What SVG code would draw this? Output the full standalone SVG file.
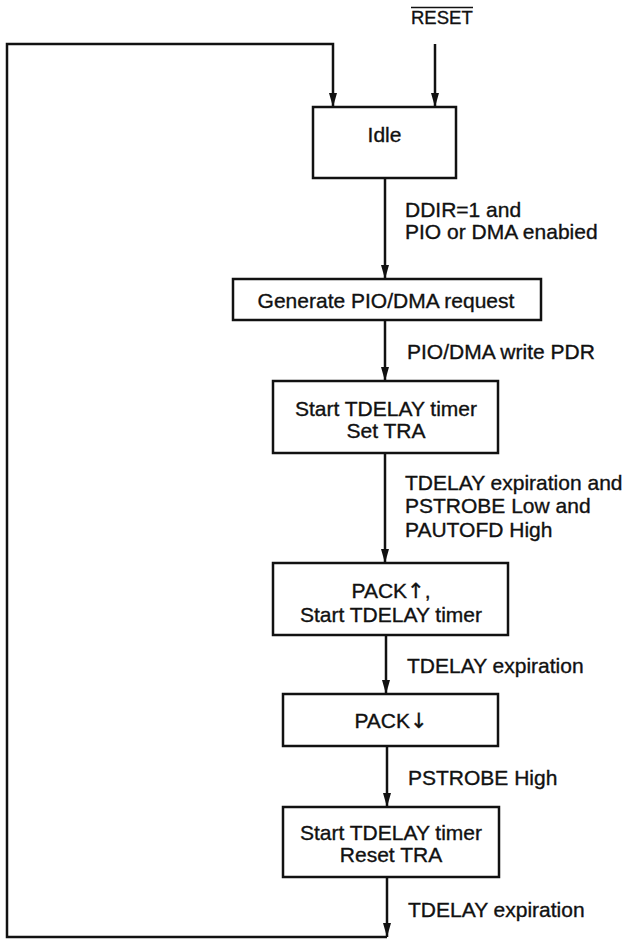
<svg xmlns="http://www.w3.org/2000/svg" width="630" height="939" viewBox="0 0 630 939">
<style>
  .box { fill: #fff; stroke: #111; stroke-width: 2.5; }
  .t { font-family: "Liberation Sans", Arial, Helvetica, sans-serif; font-size: 21px; fill: #111; stroke: #111; stroke-width: 0.35; }
  .c { text-anchor: middle; }
  .ar { font-family: "DejaVu Sans", sans-serif; }
  .wire { fill: none; stroke: #111; stroke-width: 2.5; }
</style>
<defs>
  <marker id="arr" markerUnits="userSpaceOnUse" viewBox="0 0 14 9" refX="14" refY="4.5" markerWidth="14" markerHeight="9" orient="auto">
    <path d="M0,0.5 L14,4.5 L0,8.5 Z" fill="#111"/>
  </marker>
</defs>
<rect width="630" height="939" fill="#fff"/>

<g id="connectors">
  <path class="wire" d="M387,937 H7 V44 H333 V107" marker-end="url(#arr)"/>
  <path class="wire" d="M435,44 V107" marker-end="url(#arr)"/>
  <path class="wire" d="M385,178 V279" marker-end="url(#arr)"/>
  <path class="wire" d="M385,320 V381" marker-end="url(#arr)"/>
  <path class="wire" d="M385,453 V563" marker-end="url(#arr)"/>
  <path class="wire" d="M386,635 V694" marker-end="url(#arr)"/>
  <path class="wire" d="M387,746 V807" marker-end="url(#arr)"/>
  <path class="wire" d="M387,877 V937" marker-end="url(#arr)"/>
</g>

<g id="reset-label">
  <text class="t" x="411" y="24" style="font-size:18.5px">RESET</text>
  <line x1="411" y1="7.5" x2="473" y2="7.5" stroke="#111" stroke-width="1.5"/>
</g>

<g id="labels">
  <text class="t" x="405" y="217">DDIR=1 and</text>
  <text class="t" x="405" y="239">PIO or DMA enabied</text>
  <text class="t" x="407" y="359">PIO/DMA write PDR</text>
  <text class="t" x="405" y="490">TDELAY expiration and</text>
  <text class="t" x="405" y="513">PSTROBE Low and</text>
  <text class="t" x="405" y="537">PAUTOFD High</text>
  <text class="t" x="407" y="673">TDELAY expiration</text>
  <text class="t" x="408" y="785">PSTROBE High</text>
  <text class="t" x="408" y="917">TDELAY expiration</text>
</g>

<g id="idle">
  <rect class="box" x="313" y="107" width="143" height="71"/>
  <text class="t c" x="384.5" y="142">Idle</text>
</g>

<g id="generate">
  <rect class="box" x="233" y="279" width="308" height="41"/>
  <text class="t c" x="386" y="308">Generate PIO/DMA request</text>
</g>

<g id="start-set">
  <rect class="box" x="273" y="381" width="225" height="72"/>
  <text class="t c" x="386" y="416">Start TDELAY timer</text>
  <text class="t c" x="386" y="438">Set TRA</text>
</g>

<g id="pack-up">
  <rect class="box" x="273" y="563" width="235" height="72"/>
  <text class="t c" x="391" y="598">PACK<tspan class="ar">↑</tspan>,</text>
  <text class="t c" x="391" y="622">Start TDELAY timer</text>
</g>

<g id="pack-down">
  <rect class="box" x="283" y="694" width="215" height="52"/>
  <text class="t c" x="391" y="728">PACK<tspan class="ar">↓</tspan></text>
</g>

<g id="start-reset">
  <rect class="box" x="283" y="807" width="216" height="70"/>
  <text class="t c" x="391" y="840">Start TDELAY timer</text>
  <text class="t c" x="391" y="862">Reset TRA</text>
</g>
</svg>
